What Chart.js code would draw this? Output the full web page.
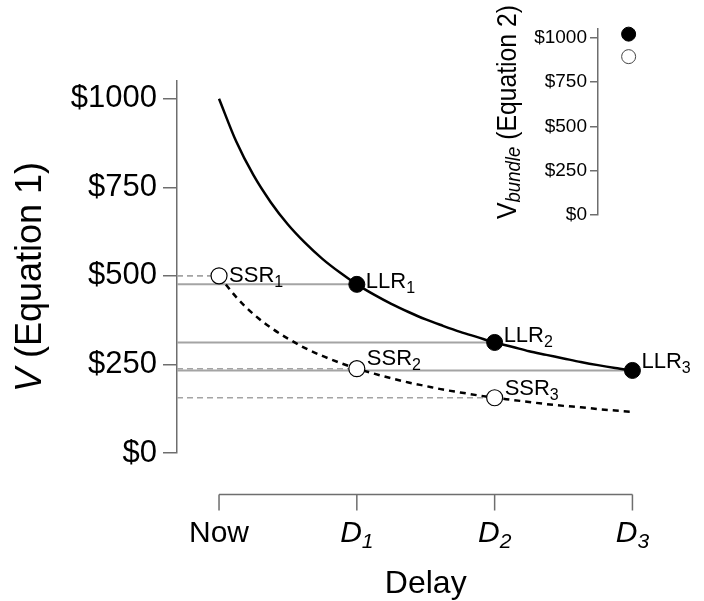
<!DOCTYPE html>
<html>
<head>
<meta charset="utf-8">
<script src="https://cdn.jsdelivr.net/npm/chart.js@4/dist/chart.umd.min.js"></script>
<style>
  html, body { margin: 0; padding: 0; background: #fff; }
  #wrap { position: relative; width: 704px; height: 601px; }
  #main { position: absolute; left: 0; top: 0; }
  #inset { position: absolute; left: 480px; top: 0; }
</style>
</head>
<body>
<div id="wrap">
  <canvas id="main" width="704" height="601"></canvas>
  <canvas id="inset" width="224" height="240"></canvas>
</div>
<script>
// Delay positions and their axis labels
const delays = [0, 1, 2, 3];
const delayLabels = [['Now', ''], ['D', '1'], ['D', '2'], ['D', '3']];

// Smaller-sooner (SSR) and larger-later (LLR) rewards, V (Equation 1)
const ssrDelays = [0, 1, 2];
const ssrValues = [500, 238, 156];
const llrDelays = [1, 2, 3];
const llrValues = [476, 312, 233];

// Discount curves traced across the delay range
const curveDelays = [0, 0.125, 0.25, 0.375, 0.5, 0.625, 0.75, 0.875, 1, 1.125, 1.25, 1.375, 1.5,
                     1.625, 1.75, 1.875, 2, 2.125, 2.25, 2.375, 2.5, 2.625, 2.75, 2.875, 3];
const largerCurve = [1000, 879, 784, 708, 645, 593, 548, 510, 476, 447, 421, 398, 377,
                     359, 342, 327, 312, 300, 287, 277, 267, 257, 248, 240, 233];
const smallerCurve = [500, 440, 392, 354, 323, 296, 274, 255, 238, 224, 211, 199, 189,
                      179, 171, 163, 156, 150, 144, 138, 133, 129, 124, 120, 116];

// Bundle values, V_bundle (Equation 2): LLR bundle, SSR bundle
const bundleValues = [1021, 894];

// Tick values shared by both value axes
const valueTicks = [0, 250, 500, 750, 1000];

const FONT = '"Liberation Sans", Arial, Helvetica, sans-serif';
const X_MIN = -0.305, X_MAX = 3.2, Y_MAX = 1050;
const AXIS_GREY = '#6e6e6e';
const GUIDE_GREY = '#a4a4a4';

function xy(xs, ys) { return xs.map((x, i) => ({ x: x, y: ys[i] })); }

// text with a lowered, smaller suffix; returns total width
function subText(ctx, x, y, main, sub, mainFont, subFont, subDy, align) {
  ctx.font = mainFont;
  const w1 = ctx.measureText(main).width;
  ctx.font = subFont;
  const w2 = sub ? ctx.measureText(sub).width : 0;
  let x0 = x;
  if (align === 'center') x0 = x - (w1 + w2) / 2;
  ctx.textAlign = 'left';
  ctx.font = mainFont;
  ctx.fillText(main, x0, y);
  if (sub) {
    ctx.font = subFont;
    ctx.fillText(sub, x0 + w1, y + subDy);
  }
  return w1 + w2;
}

// point labels: which reward, and where the text sits beside its marker
const pointLabels = [
  { name: 'SSR', idx: 0, kind: 'ssr', dx: 10, dy: 6 },
  { name: 'SSR', idx: 1, kind: 'ssr', dx: 10, dy: -4 },
  { name: 'SSR', idx: 2, kind: 'ssr', dx: 10, dy: -3 },
  { name: 'LLR', idx: 0, kind: 'llr', dx: 9, dy: 4 },
  { name: 'LLR', idx: 1, kind: 'llr', dx: 9, dy: 0 },
  { name: 'LLR', idx: 2, kind: 'llr', dx: 9, dy: -2 }
];

const mainDecor = {
  id: 'mainDecor',
  afterDraw(chart) {
    const ctx = chart.ctx;
    const xs = chart.scales.x, ys = chart.scales.y;
    ctx.save();
    // offset delay axis
    const axisY = 494.5;
    const x0 = xs.getPixelForValue(delays[0]);
    const x1 = xs.getPixelForValue(delays[delays.length - 1]);
    ctx.strokeStyle = AXIS_GREY;
    ctx.lineWidth = 1.5;
    ctx.beginPath();
    ctx.moveTo(x0, axisY);
    ctx.lineTo(x1, axisY);
    delays.forEach(d => {
      const px = xs.getPixelForValue(d);
      ctx.moveTo(px, axisY);
      ctx.lineTo(px, axisY + 16);
    });
    ctx.stroke();

    ctx.fillStyle = '#000';
    ctx.textBaseline = 'alphabetic';
    delays.forEach((d, i) => {
      const px = xs.getPixelForValue(d);
      const [m, s] = delayLabels[i];
      if (s) {
        subText(ctx, px, 542, m, s, 'italic 30px ' + FONT, 'italic 21px ' + FONT, 6, 'center');
      } else {
        subText(ctx, px, 542, m, '', '30px ' + FONT, '21px ' + FONT, 0, 'center');
      }
    });
    ctx.font = '32px ' + FONT;
    ctx.textAlign = 'center';
    ctx.fillText('Delay', (x0 + x1) / 2, 593);

    // value axis title
    ctx.save();
    ctx.translate(31, 277);
    ctx.rotate(-Math.PI / 2);
    ctx.textBaseline = 'middle';
    ctx.font = 'italic 36px ' + FONT;
    const wv = ctx.measureText('V').width;
    ctx.font = '36px ' + FONT;
    const wr = ctx.measureText(' (Equation 1)').width;
    let tx = -(wv + wr) / 2;
    ctx.textAlign = 'left';
    ctx.font = 'italic 36px ' + FONT;
    ctx.fillText('V', tx, 0);
    ctx.font = '36px ' + FONT;
    ctx.fillText(' (Equation 1)', tx + wv, 0);
    ctx.restore();

    // reward labels
    ctx.textBaseline = 'alphabetic';
    pointLabels.forEach(l => {
      const d = l.kind === 'ssr' ? ssrDelays[l.idx] : llrDelays[l.idx];
      const v = l.kind === 'ssr' ? ssrValues[l.idx] : llrValues[l.idx];
      const px = xs.getPixelForValue(d) + l.dx;
      const py = ys.getPixelForValue(v) + l.dy;
      subText(ctx, px, py, l.name, String(l.idx + 1), '22px ' + FONT, '16px ' + FONT, 5, 'left');
    });
    ctx.restore();
  }
};

function valueAxis(fontSize, width, tickLen, pad) {
  return {
    type: 'linear',
    position: 'left',
    min: 0,
    max: Y_MAX,
    afterFit(s) { s.width = width; },
    afterBuildTicks(s) { s.ticks = valueTicks.map(v => ({ value: v })); },
    grid: { drawOnChartArea: false, drawTicks: true, tickLength: tickLen, color: AXIS_GREY, lineWidth: 1.5 },
    border: { display: true, color: AXIS_GREY, width: 1.5 },
    ticks: {
      color: '#000',
      padding: pad,
      font: { family: FONT, size: fontSize },
      callback: v => '$' + v
    }
  };
}

const guideLines = [];
llrDelays.forEach((d, i) => {
  guideLines.push({
    data: [{ x: X_MIN, y: llrValues[i] }, { x: d, y: llrValues[i] }],
    showLine: true, pointRadius: 0, borderColor: GUIDE_GREY, borderWidth: 2, order: 5
  });
});
ssrDelays.forEach((d, i) => {
  guideLines.push({
    data: [{ x: X_MIN, y: ssrValues[i] }, { x: d, y: ssrValues[i] }],
    showLine: true, pointRadius: 0, borderColor: GUIDE_GREY, borderWidth: 1.6, borderDash: [6, 4], order: 5
  });
});

new Chart(document.getElementById('main'), {
  type: 'scatter',
  data: {
    datasets: [
      {
        data: xy(llrDelays, llrValues),
        pointRadius: 8, pointBackgroundColor: '#000', pointBorderColor: '#000', pointBorderWidth: 1, order: 1
      },
      {
        data: xy(ssrDelays, ssrValues),
        pointRadius: 8, pointBackgroundColor: '#fff', pointBorderColor: '#000', pointBorderWidth: 1.2, order: 1
      },
      {
        data: xy(curveDelays, largerCurve),
        showLine: true, pointRadius: 0, borderColor: '#000', borderWidth: 2.5,
        cubicInterpolationMode: 'monotone', order: 3
      },
      {
        data: xy(curveDelays, smallerCurve),
        showLine: true, pointRadius: 0, borderColor: '#000', borderWidth: 2.5, borderDash: [6, 5],
        cubicInterpolationMode: 'monotone', order: 3
      },
      ...guideLines
    ]
  },
  options: {
    responsive: false,
    animation: false,
    events: [],
    layout: { padding: { left: 0, top: 81, right: 44, bottom: 148 } },
    plugins: { legend: { display: false }, tooltip: { enabled: false } },
    scales: {
      x: { type: 'linear', display: false, min: X_MIN, max: X_MAX },
      y: valueAxis(31, 177, 14, 6)
    }
  },
  plugins: [mainDecor]
});

const insetDecor = {
  id: 'insetDecor',
  afterDraw(chart) {
    const ctx = chart.ctx;
    ctx.save();
    ctx.translate(28, 112);
    ctx.rotate(-Math.PI / 2);
    ctx.fillStyle = '#000';
    ctx.textBaseline = 'middle';
    const fMain = '28px ' + FONT, fSub = 'italic 21px ' + FONT;
    ctx.font = fMain;
    const a = ctx.measureText('V').width;
    ctx.font = fSub;
    const b = ctx.measureText('bundle').width;
    ctx.font = fMain;
    const c = ctx.measureText(' (Equation 2)').width;
    const total = a + b + c;
    const k = 214 / total;
    ctx.scale(k, 1);
    let x = -total / 2;
    ctx.textAlign = 'left';
    ctx.font = fMain;
    ctx.fillText('V', x, 0);
    ctx.font = fSub;
    ctx.fillText('bundle', x + a, 6);
    ctx.font = fMain;
    ctx.fillText(' (Equation 2)', x + a + b, 0);
    ctx.restore();
  }
};

new Chart(document.getElementById('inset'), {
  type: 'scatter',
  data: {
    datasets: [
      {
        data: [{ x: 0, y: bundleValues[0] }], clip: false,
        pointRadius: 7, pointBackgroundColor: '#000', pointBorderColor: '#000', pointBorderWidth: 1
      },
      {
        data: [{ x: 0, y: bundleValues[1] }], clip: false,
        pointRadius: 7, pointBackgroundColor: '#fff', pointBorderColor: '#444', pointBorderWidth: 1
      }
    ]
  },
  options: {
    responsive: false,
    animation: false,
    events: [],
    layout: { padding: { left: 0, top: 29, right: 0, bottom: 25 } },
    plugins: { legend: { display: false }, tooltip: { enabled: false } },
    scales: {
      x: { type: 'linear', display: false, min: -1, max: 2.2 },
      y: valueAxis(19, 118, 8, 3)
    }
  },
  plugins: [insetDecor]
});
</script>
</body>
</html>
